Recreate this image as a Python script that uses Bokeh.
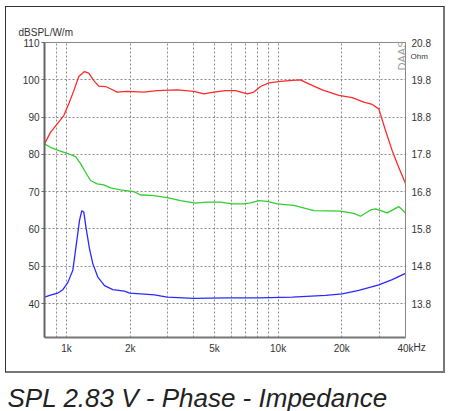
import math
from bokeh.plotting import figure
from bokeh.models import (Range1d, LinearAxis, FixedTicker, PrintfTickFormatter,
                          Label, Title, InlineStyleSheet)
from bokeh.embed import file_html
from bokeh.resources import INLINE

# ---------------- data ----------------
spl_freq = [787, 840, 904, 971, 1025, 1083, 1143, 1216, 1274, 1346, 1421, 1529, 1614,
            1736, 1936, 2320, 2680, 3340, 4000, 4460, 4970, 5640, 6290, 7150, 7680,
            8260, 9040, 10260, 11230, 12760, 13970, 16160, 19360, 22400, 25410,
            27850, 29920, 32180, 34610, 37190, 40000]
spl_db = [82.8, 85.9, 88.2, 90.4, 93.6, 97.1, 100.9, 102.2, 101.8, 99.8, 98.3, 98.2, 97.6,
          96.7, 96.9, 96.7, 97.1, 97.3, 96.9, 96.2, 96.7, 97.1, 97.1, 96.2, 96.7,
          98.2, 99.2, 99.6, 99.8, 100.0, 98.9, 97.3, 95.8, 95.2, 94.0,
          93.4, 92.2, 86.4, 81.0, 76.5, 72.2]

phase_freq = [787, 840, 920, 1008, 1103, 1165, 1230, 1298, 1397, 1500, 1614, 1800, 2080,
              2237, 2541, 2992, 3458, 4070, 4620, 5340, 6070, 6880, 7410, 8110, 8880,
              9900, 11870, 14750, 19720, 22790, 24520, 27340, 28860, 32780, 37190, 40000]
phase_val = [82.8, 81.9, 81.0, 80.3, 79.4, 77.5, 75.2, 73.0, 72.1, 71.8, 71.0, 70.5, 70.0,
             69.1, 69.0, 68.4, 67.6, 66.9, 67.2, 67.2, 66.7, 66.7, 67.0, 67.6, 67.4,
             66.7, 66.3, 64.9, 64.8, 64.2, 63.4, 65.1, 65.4, 64.3, 66.0, 64.3]

imp_freq = [787, 847, 910, 961, 1014, 1071, 1111, 1152, 1181, 1207, 1239, 1284, 1331,
            1406, 1512, 1655, 1880, 1985, 2337, 2604, 2990, 4000, 5640, 8110, 11660,
            16750, 20090, 24060, 29920, 34610, 40000]
imp_ohm = [13.97, 14.03, 14.08, 14.17, 14.36, 14.69, 15.36, 16.03, 16.29, 16.25, 15.80,
           15.27, 14.87, 14.51, 14.28, 14.17, 14.13, 14.08, 14.05, 14.03, 13.97, 13.94,
           13.95, 13.95, 13.97, 14.02, 14.06, 14.15, 14.30, 14.44, 14.61]

db_ticks = [40, 50, 60, 70, 80, 90, 100, 110]
ohm_ticks = [13.8, 14.8, 15.8, 16.8, 17.8, 18.8, 19.8, 20.8]
freq_ticks = [1000, 2000, 5000, 10000, 20000, 40000]
freq_labels = ["1k", "2k", "5k", "10k", "20k", "40k"]
freq_grid = [900, 1000, 2000, 3000, 4000, 5000, 6000, 7000, 8000, 9000,
             10000, 20000, 30000, 40000]

FONT = "Liberation Sans"
TXT = "#333333"

p = figure(width=450, height=411, x_axis_type="log",
           x_range=Range1d(787, 40000), y_range=Range1d(30.88, 110.01),
           output_backend="svg", toolbar_location=None,
           min_border_left=44, min_border_right=45, min_border_top=42, min_border_bottom=74)
p.background_fill_color = "white"
p.border_fill_color = "white"
p.outline_line_color = "#888888"
p.outline_line_width = 1

# outer frame box around the chart (drawn by CSS, not data)
p.stylesheets = [InlineStyleSheet(css="""
:host::after {
  content: "";
  position: absolute;
  left: 5px; top: 6px; width: 440px; height: 367px;
  box-sizing: border-box;
  border-left: 1px solid #333; border-top: 1px solid #333;
  border-right: 2px solid #777; border-bottom: 2px solid #777;
  pointer-events: none;
}
""")]

# grids
p.xgrid.ticker = FixedTicker(ticks=freq_grid)
p.ygrid.ticker = FixedTicker(ticks=db_ticks)
for g in (p.xgrid, p.ygrid):
    g.grid_line_color = "#8a8a8a"
    g.grid_line_dash = "2 2"
    g.grid_line_width = 1

# left axis
ya = p.yaxis[0]
ya.ticker = FixedTicker(ticks=db_ticks)
ya.major_tick_out = 3
ya.major_tick_in = 0
ya.minor_tick_out = 0
ya.minor_tick_in = 0
ya.axis_line_color = "#666666"
ya.axis_line_width = 2
ya.major_tick_line_color = "#666666"
ya.major_label_standoff = 2
ya.major_label_text_font = FONT
ya.major_label_text_font_size = "10px"
ya.major_label_text_color = TXT

# bottom axis
xa = p.xaxis[0]
xa.ticker = FixedTicker(ticks=freq_ticks)
xa.major_label_overrides = {t: l for t, l in zip(freq_ticks, freq_labels)}
xa.major_tick_out = 0
xa.major_tick_in = 0
xa.minor_tick_out = 0
xa.minor_tick_in = 0
xa.axis_line_color = "#777777"
xa.axis_line_width = 2
xa.major_label_standoff = 5
xa.major_label_text_font = FONT
xa.major_label_text_font_size = "10px"
xa.major_label_text_color = TXT

# right axis (impedance)
p.extra_y_ranges = {"ohm": Range1d(12.888, 20.801)}
ra = LinearAxis(y_range_name="ohm", ticker=FixedTicker(ticks=ohm_ticks),
                formatter=PrintfTickFormatter(format="%.1f"))
ra.major_tick_out = 0
ra.major_tick_in = 0
ra.minor_tick_out = 0
ra.minor_tick_in = 0
ra.axis_line_color = "#888888"
ra.axis_line_width = 1
ra.major_label_standoff = 6
ra.major_label_text_font = FONT
ra.major_label_text_font_size = "10px"
ra.major_label_text_color = TXT
p.add_layout(ra, "right")

# curves
p.line(spl_freq, spl_db, line_color="#ff2a2a", line_width=1.3)
p.line(phase_freq, phase_val, line_color="#33cc33", line_width=1.3)
p.line(imp_freq, imp_ohm, line_color="#2a2aff", line_width=1.3, y_range_name="ohm")

# texts
p.add_layout(Title(text="dBSPL/W/m", align="left", offset=-26, standoff=10,
                   text_font=FONT, text_font_size="10px", text_color=TXT,
                   text_font_style="normal"), "above")
p.add_layout(Label(x=-23, y=281, x_units="screen", y_units="screen", text="Ohm",
                   text_font=FONT, text_font_size="8px", text_color=TXT,
                   text_align="left", text_baseline="middle"), "right")
p.add_layout(Label(x=369, y=20, x_units="screen", y_units="screen", text="Hz",
                   text_font=FONT, text_font_size="10px", text_color=TXT,
                   text_align="left", text_baseline="middle"), "below")
p.add_layout(Label(x=-37, y=0, x_units="screen", y_units="screen",
                   text="SPL 2.83 V - Phase - Impedance",
                   text_font=FONT, text_font_size="26px", text_font_style="italic",
                   text_color="#222222", text_align="left", text_baseline="alphabetic"),
             "below")
p.add_layout(Label(x=357, y=297, x_units="screen", y_units="screen", text="DAAS",
                   angle=math.pi / 2, text_font=FONT, text_font_size="11px",
                   text_color="#a0a0a0", text_align="right", text_baseline="middle"))

open("out.html", "w").write(file_html(p, INLINE))
